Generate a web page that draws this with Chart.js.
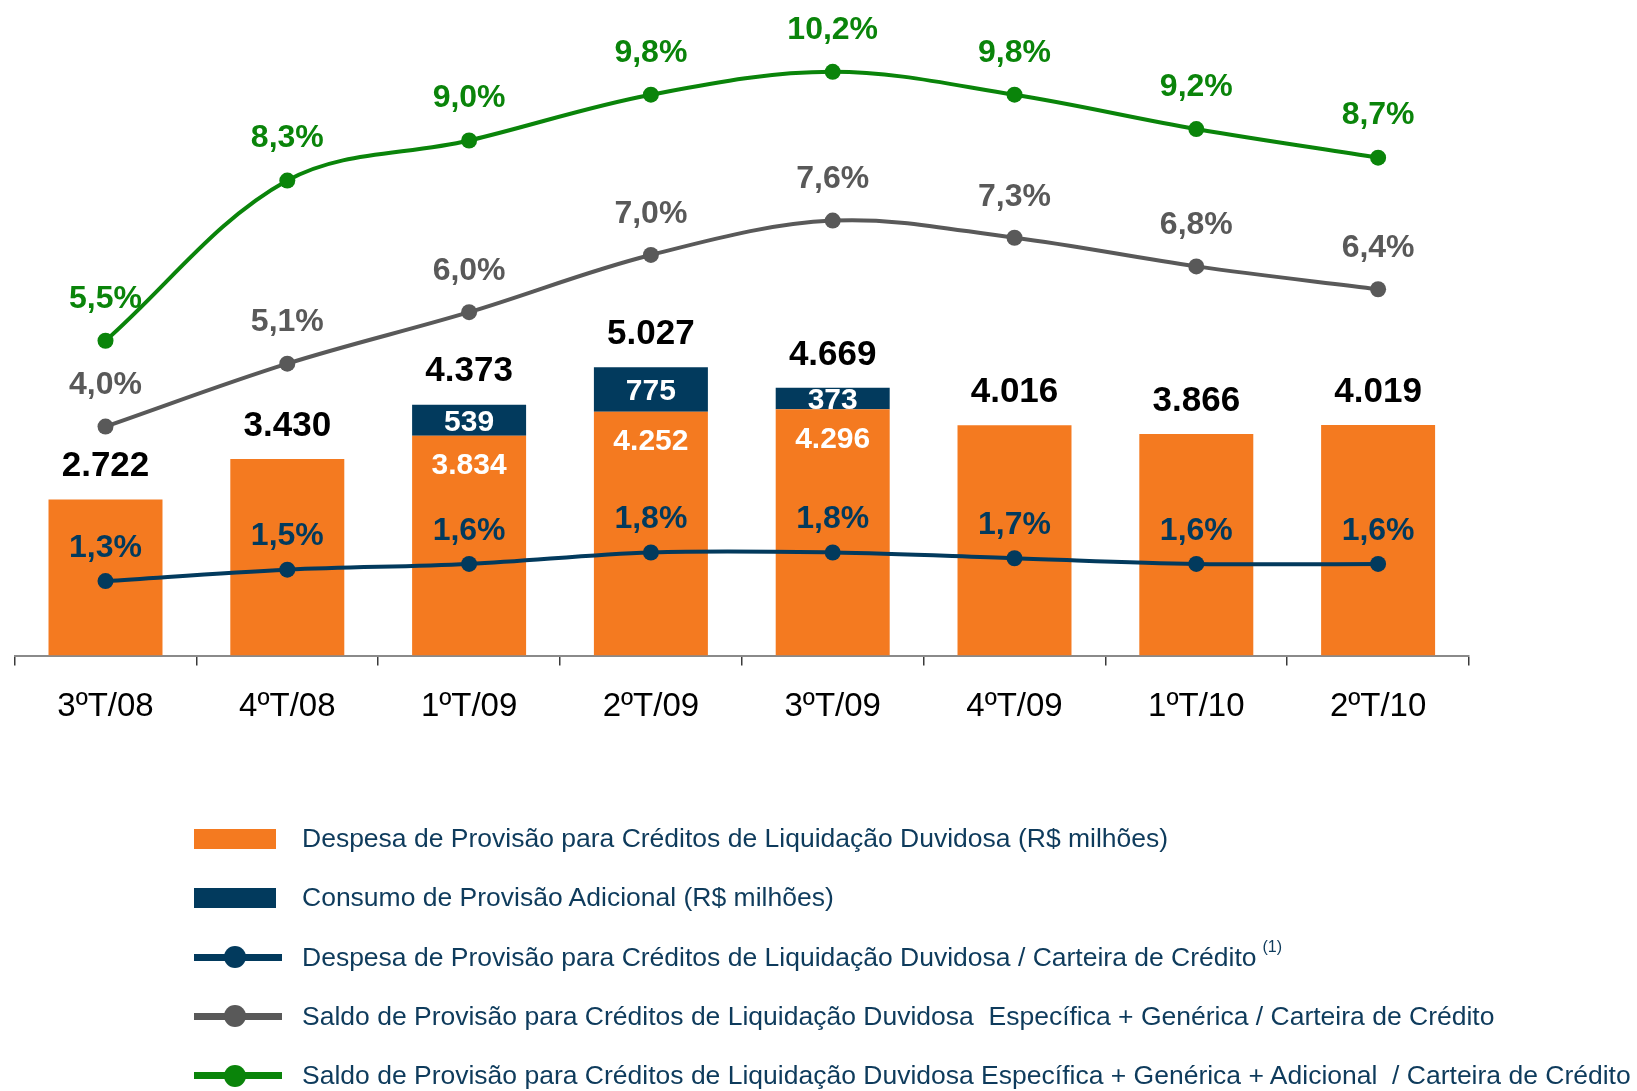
<!DOCTYPE html>
<html>
<head>
<meta charset="utf-8">
<script src="https://cdn.jsdelivr.net/npm/chart.js@4.4.0/dist/chart.umd.min.js"></script>
<style>
html,body{margin:0;padding:0;background:#fff;}
#wrap{position:relative;width:1637px;height:1091px;overflow:hidden;background:#fff;}
#chartBox{position:absolute;left:0;top:0;width:1637px;height:764px;}
#legend{position:absolute;left:0;top:0;width:1637px;height:1091px;pointer-events:none;
  font-family:"Liberation Sans",Arial,sans-serif;font-size:26.5px;color:#0E3B5C;}
.row{position:absolute;left:194px;height:40px;margin-top:-20px;display:flex;align-items:center;white-space:pre;}
.sw{width:82px;height:20px;margin-right:26px;flex:none;}
.ln{position:relative;width:88px;height:22px;margin-right:20px;flex:none;}
.ln::before{content:'';position:absolute;left:0;right:0;top:7.5px;height:7px;background:var(--c);}
.ln::after{content:'';position:absolute;left:30px;top:0;width:22px;height:22px;border-radius:50%;background:var(--c);}
sup{font-size:16px;position:relative;top:-4px;vertical-align:top;margin-left:6px;}
</style>
</head>
<body>
<div id="wrap">
  <div id="chartBox"><canvas id="c"></canvas></div>
  <div id="legend">
    <div class="row" style="top:838.5px"><span class="sw" style="background:#F47A20"></span><span>Despesa de Provisão para Créditos de Liquidação Duvidosa (R$ milhões)</span></div>
    <div class="row" style="top:897.75px"><span class="sw" style="background:#023A5D"></span><span>Consumo de Provisão Adicional (R$ milhões)</span></div>
    <div class="row" style="top:957px"><span class="ln" style="--c:#023A5D"></span><span>Despesa de Provisão para Créditos de Liquidação Duvidosa / Carteira de Crédito<sup>(1)</sup></span></div>
    <div class="row" style="top:1016.25px"><span class="ln" style="--c:#595959"></span><span>Saldo de Provisão para Créditos de Liquidação Duvidosa  Específica + Genérica / Carteira de Crédito</span></div>
    <div class="row" style="top:1075.5px"><span class="ln" style="--c:#0A840A"></span><span>Saldo de Provisão para Créditos de Liquidação Duvidosa Específica + Genérica + Adicional  / Carteira de Crédito</span></div>
  </div>
</div>
<script>
// ---- data ----
const categories = ['3ºT/08','4ºT/08','1ºT/09','2ºT/09','3ºT/09','4ºT/09','1ºT/10','2ºT/10'];
const despesaPDD = [2722, 3430, 3834, 4252, 4296, 4016, 3866, 4019];
const consumoAdicional = [null, null, 539, 775, 373, null, null, null];
const despesaSobreCarteira = [1.3, 1.5, 1.6, 1.8, 1.8, 1.7, 1.6, 1.6];
const saldoEspGen = [4.0, 5.1, 6.0, 7.0, 7.6, 7.3, 6.8, 6.4];
const saldoEspGenAdic = [5.5, 8.3, 9.0, 9.8, 10.2, 9.8, 9.2, 8.7];

// ---- styles ----
const FONT = '"Liberation Sans", Arial, sans-serif';
const ORANGE = '#F47A20', NAVY = '#023A5D', GRAY = '#595959', GREEN = '#0A840A';
const AREA_TOP = 10, AREA_BOTTOM = 657.5;
const PX_PER_UNIT = 0.0575, PX_PER_PCT = 57.4;

function fmtInt(v){ return String(v).replace(/\B(?=(\d{3})+(?!\d))/g, '.'); }
function fmtPct(v){ return v.toFixed(1).replace('.', ',') + '%'; }

const labelPlugin = {
  id: 'valueLabels',
  afterDatasetsDraw(chart) {
    const ctx = chart.ctx;
    const yS = chart.scales.y;
    const mO = chart.getDatasetMeta(0), mN = chart.getDatasetMeta(1);
    ctx.save();
    ctx.textAlign = 'center';
    ctx.textBaseline = 'middle';
    categories.forEach((c, i) => {
      const total = despesaPDD[i] + (consumoAdicional[i] || 0);
      const x = mO.data[i].x;
      ctx.font = 'bold 35px ' + FONT;
      ctx.fillStyle = '#000';
      ctx.fillText(fmtInt(total), x, yS.getPixelForValue(total) - 33);
      if (consumoAdicional[i]) {
        const el = mN.data[i];
        ctx.font = 'bold 30px ' + FONT;
        ctx.fillStyle = '#fff';
        ctx.fillText(fmtInt(consumoAdicional[i]), el.x, (el.y + el.base) / 2 + 2);
        ctx.fillText(fmtInt(despesaPDD[i]), x, mO.data[i].y + 30);
      }
    });
    const lineLabels = [[2, NAVY, 33], [3, GRAY, 41], [4, GREEN, 42]];
    lineLabels.forEach(([di, col, off]) => {
      const meta = chart.getDatasetMeta(di);
      const vals = chart.data.datasets[di].data;
      ctx.font = 'bold 32px ' + FONT;
      ctx.fillStyle = col;
      meta.data.forEach((pt, i) => {
        ctx.fillText(fmtPct(vals[i]), pt.x, pt.y - off);
      });
    });
    ctx.restore();
  }
};

const lineDs = (label, data, color) => ({
  type: 'line', label, data, yAxisID: 'y2', order: 1,
  borderColor: color, backgroundColor: color, borderWidth: 4,
  pointRadius: 8, pointHoverRadius: 8, pointBackgroundColor: color, pointBorderWidth: 0,
  tension: 0.35, fill: false, clip: false
});

new Chart(document.getElementById('c'), {
  type: 'bar',
  data: {
    labels: categories,
    datasets: [
      { label: 'Despesa de Provisão para Créditos de Liquidação Duvidosa (R$ milhões)', data: despesaPDD,
        backgroundColor: ORANGE, yAxisID: 'y', order: 2, stack: 's', barPercentage: 0.627, categoryPercentage: 1 },
      { label: 'Consumo de Provisão Adicional (R$ milhões)', data: consumoAdicional,
        backgroundColor: NAVY, yAxisID: 'y', order: 2, stack: 's', barPercentage: 0.627, categoryPercentage: 1 },
      lineDs('Despesa de Provisão para Créditos de Liquidação Duvidosa / Carteira de Crédito', despesaSobreCarteira, NAVY),
      lineDs('Saldo de Provisão para Créditos de Liquidação Duvidosa Específica + Genérica / Carteira de Crédito', saldoEspGen, GRAY),
      lineDs('Saldo de Provisão para Créditos de Liquidação Duvidosa Específica + Genérica + Adicional / Carteira de Crédito', saldoEspGenAdic, GREEN)
    ]
  },
  options: {
    responsive: true, maintainAspectRatio: false, animation: false,
    devicePixelRatio: 1,
    layout: { padding: { left: 14.6, right: 168, top: AREA_TOP, bottom: 14.9 } },
    plugins: { legend: { display: false }, tooltip: { enabled: false } },
    scales: {
      x: {
        stacked: true,
        grid: { display: true, drawOnChartArea: false, drawTicks: true, tickLength: 10, color: '#3a3a3a', lineWidth: 1.5, offset: true },
        border: { display: true, color: '#8a8a8a', width: 2 },
        ticks: { color: '#000', font: { family: FONT, size: 33 }, padding: 22, maxRotation: 0, autoSkip: false }
      },
      y: {
        display: false, stacked: true, min: 0,
        max: (AREA_BOTTOM - AREA_TOP) / PX_PER_UNIT
      },
      y2: {
        display: false, min: 0,
        max: (AREA_BOTTOM - AREA_TOP) / PX_PER_PCT
      }
    }
  },
  plugins: [labelPlugin]
});
</script>
</body>
</html>
